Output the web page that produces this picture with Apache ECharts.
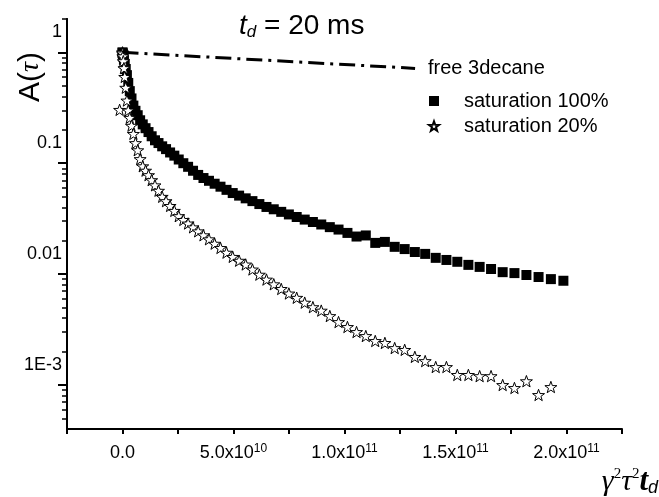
<!DOCTYPE html>
<html><head><meta charset="utf-8">
<script src="https://cdn.jsdelivr.net/npm/echarts@6/dist/echarts.min.js"></script>
<style>html,body{margin:0;padding:0;background:#fff}#c{width:659px;height:497px}</style>
</head><body><div id="c"></div>
<script>
const FONT = '"Liberation Sans", Arial, Helvetica, sans-serif';
const SERIF = '"Liberation Serif", "Times New Roman", serif';
const X_UNIT = 1e9;

// saturation 100% (x in units of 1e9)
const sat100X = [0, 0.041, 0.162, 0.365, 0.648, 1.013, 1.459, 1.986, 2.594, 3.283,
  4.053, 4.904, 5.836, 6.850, 7.944, 9.119, 10.376, 11.713, 13.132, 14.632,
  16.212, 17.874, 19.617, 21.441, 23.346, 25.332, 27.399, 29.547, 31.776, 34.087,
  36.478, 38.950, 41.504, 44.138, 46.854, 49.650, 52.528, 55.487, 58.527, 61.648,
  64.850, 68.133, 71.497, 74.942, 78.468, 82.075, 85.764, 89.533, 93.383, 97.315,
  101.328, 105.421, 109.596, 113.852, 118.188, 122.606, 127.105, 131.685, 136.346, 141.088,
  145.912, 150.816, 155.801, 160.868, 166.015, 171.243, 176.553, 181.944, 187.415, 192.968, 198.600];
const sat100Y = [1.000, 0.990, 0.963, 0.917, 0.857, 0.787, 0.708, 0.623, 0.530, 0.447,
  0.384, 0.331, 0.297, 0.271, 0.244, 0.224, 0.207, 0.191, 0.175, 0.161,
  0.152, 0.142, 0.134, 0.125, 0.117, 0.108, 0.100, 0.0928, 0.0855, 0.0784,
  0.0735, 0.0694, 0.0653, 0.0614, 0.0575, 0.0538, 0.0510, 0.0482, 0.0455, 0.0428,
  0.0403, 0.0384, 0.0364, 0.0345, 0.0327, 0.0310, 0.0295, 0.0280, 0.0265, 0.0252,
  0.0235, 0.0218, 0.0223, 0.0191, 0.0195, 0.0176, 0.0168, 0.0158, 0.0152, 0.0140,
  0.0134, 0.0129, 0.0121, 0.0116, 0.0111, 0.0104, 0.0102, 0.0098, 0.0094, 0.0090, 0.0087];

// saturation 20% (x in units of 1e9)
const sat20X = [-1.3, 0, 0.041, 0.162, 0.365, 0.648, 1.013, 1.459, 1.986, 2.594, 3.283,
  4.053, 4.904, 5.836, 6.850, 7.944, 9.119, 10.376, 11.713, 13.132, 14.632,
  16.212, 17.874, 19.617, 21.441, 23.346, 25.332, 27.399, 29.547, 31.776, 34.087,
  36.478, 38.950, 41.504, 44.138, 46.854, 49.650, 52.528, 55.487, 58.527, 61.648,
  64.850, 68.133, 71.497, 74.942, 78.468, 82.075, 85.764, 89.533, 93.383, 97.315,
  101.328, 105.421, 109.596, 113.852, 118.188, 122.606, 127.105, 131.685, 136.346, 141.088,
  145.912, 150.816, 155.801, 160.868, 166.015, 171.243, 176.553, 181.944, 187.415, 192.968];
const sat20Y = [0.303, 1.000, 0.979, 0.922, 0.833, 0.721, 0.601, 0.480, 0.368, 0.299, 0.257,
  0.218, 0.184, 0.152, 0.131, 0.109, 0.0939, 0.0857, 0.0781, 0.0704, 0.0632,
  0.0565, 0.0498, 0.0455, 0.0412, 0.0372, 0.0333, 0.0308, 0.0286, 0.0264, 0.0243,
  0.0224, 0.0206, 0.0188, 0.0172, 0.0156, 0.0143, 0.0132, 0.0122, 0.0110, 0.00988,
  0.00892, 0.00809, 0.00734, 0.00668, 0.00611, 0.00552, 0.00503, 0.00468, 0.00418, 0.00369,
  0.00333, 0.00300, 0.00276, 0.00249, 0.00239, 0.00215, 0.00207, 0.00179, 0.00164, 0.00145,
  0.00145, 0.00123, 0.00123, 0.00120, 0.00120, 0.000998, 0.000938, 0.00108, 0.000811, 0.000957];

// free 3decane
const freeX = [0, 131.8];
const freeY = [1, 0.717];

// axes
const xMin = -2.5e10, xMax = 2.25e11, xInterval = 2.5e10;
const xLabelValues = [0, 5e10, 1e11, 1.5e11, 2e11];
const xLabelMantissa = ['0.0', '5.0x10', '1.0x10', '1.5x10', '2.0x10'];
const xLabelExp = ['', '10', '11', '11', '11'];
const yMin = 4e-4, yMax = 2;
const yMajorTicks = [1, 0.1, 0.01, 0.001];
const yTickLabels = ['1', '0.1', '0.01', '1E-3'];
const yMinorTicks = [2, 0.9, 0.8, 0.7, 0.6, 0.5, 0.4, 0.3, 0.2,
  0.09, 0.08, 0.07, 0.06, 0.05, 0.04, 0.03, 0.02,
  0.009, 0.008, 0.007, 0.006, 0.005, 0.004, 0.003, 0.002,
  0.0009, 0.0008, 0.0007, 0.0006, 0.0005];

const STAR = 'path://M50 0 L61.756 33.82 L97.553 34.549 L69.021 56.18 L79.389 90.451 L50 70 L20.611 90.451 L30.979 56.18 L2.447 34.549 L38.244 33.82 Z';

function pairs(xs, ys) { return xs.map((x, i) => [x * X_UNIT, ys[i]]); }

const chart = echarts.init(document.getElementById('c'), null, { renderer: 'canvas' });
chart.setOption({
  animation: false,
  backgroundColor: '#fff',
  title: {
    text: '{t|t}{d|d}{n| = 20 ms}',
    left: 234, top: 6,
    textStyle: {
      fontWeight: 'normal',
      rich: {
        t: { fontFamily: FONT, fontStyle: 'italic', fontWeight: 'normal', fontSize: 28, lineHeight: 30, color: '#000' },
        d: { fontFamily: FONT, fontStyle: 'italic', fontWeight: 'normal', fontSize: 17, lineHeight: 12, verticalAlign: 'bottom', color: '#000' },
        n: { fontFamily: FONT, fontWeight: 'normal', fontSize: 28, lineHeight: 30, color: '#000' }
      }
    }
  },
  grid: { left: 67, right: 37, top: 19, bottom: 68, containLabel: false, outerBoundsMode: 'none' },
  legend: {
    data: ['saturation 100%', 'saturation 20%'],
    orient: 'vertical', left: 423, top: 86,
    itemWidth: 10, itemHeight: 10, itemGap: 5,
    formatter: function (name) { return '{gap|}{txt|' + name + '}'; },
    textStyle: {
      fontSize: 20, color: '#000', fontFamily: FONT,
      rich: {
        gap: { width: 20 },
        txt: { fontSize: 20, color: '#000', fontFamily: FONT }
      }
    },
    selectedMode: false
  },
  xAxis: {
    type: 'value', min: xMin, max: xMax, interval: xInterval,
    name: '{g|γ}{s|2}{g|τ}{s|2}{t|t}{d|d}',
    nameLocation: 'end', nameGap: 36,
    nameTextStyle: {
      align: 'right', verticalAlign: 'top', padding: [38, 0, 0, 0],
      rich: {
        g: { fontFamily: SERIF, fontStyle: 'italic', fontSize: 30, lineHeight: 30, color: '#000' },
        s: { fontFamily: SERIF, fontSize: 15, lineHeight: 15, verticalAlign: 'top', color: '#000' },
        t: { fontFamily: SERIF, fontStyle: 'italic', fontWeight: 'bold', fontSize: 31, lineHeight: 30, color: '#000' },
        d: { fontFamily: FONT, fontStyle: 'italic', fontSize: 18, lineHeight: 14, verticalAlign: 'bottom', color: '#000' }
      }
    },
    axisLine: { show: true, onZero: false, lineStyle: { color: '#000', width: 2 } },
    axisTick: { show: true, inside: false, length: 5, lineStyle: { color: '#000', width: 2 } },
    splitLine: { show: false },
    axisLabel: {
      customValues: xLabelValues,
      margin: 14,
      formatter: function (v) {
        for (let i = 0; i < xLabelValues.length; i++) {
          if (Math.abs(v - xLabelValues[i]) < 1e6) {
            return xLabelExp[i] ? '{m|' + xLabelMantissa[i] + '}{s|' + xLabelExp[i] + '}' : '{m|' + xLabelMantissa[i] + '}';
          }
        }
        return '';
      },
      rich: {
        m: { fontFamily: FONT, fontSize: 18, lineHeight: 20, color: '#000' },
        s: { fontFamily: FONT, fontSize: 12, lineHeight: 12, verticalAlign: 'top', color: '#000' }
      }
    }
  },
  yAxis: [{
    type: 'log', logBase: 10, min: yMin, max: yMax, position: 'left',
    axisLine: { show: true, onZero: false, lineStyle: { color: '#000', width: 2 } },
    axisTick: { show: true, inside: false, length: 9, customValues: yMajorTicks, lineStyle: { color: '#000', width: 2 } },
    splitLine: { show: false },
    axisLabel: {
      customValues: yMajorTicks,
      margin: 5,
      verticalAlign: 'bottom',
      lineHeight: 40,
      fontFamily: FONT, fontSize: 18, color: '#000',
      formatter: function (v) {
        for (let i = 0; i < yMajorTicks.length; i++) {
          if (Math.abs(Math.log10(v) - Math.log10(yMajorTicks[i])) < 1e-6) return yTickLabels[i];
        }
        return '';
      }
    }
  }, {
    type: 'log', logBase: 10, min: yMin, max: yMax, position: 'left',
    axisLine: { show: true, onZero: false, lineStyle: { color: '#000', width: 2 } },
    axisTick: { show: true, inside: false, length: 5, customValues: yMinorTicks, lineStyle: { color: '#000', width: 1.5 } },
    axisLabel: { show: false },
    splitLine: { show: false }
  }],
  graphic: [
    {
      type: 'text', x: 428, y: 68,
      style: { text: 'free 3decane', fontSize: 20, fontFamily: FONT, fill: '#000', align: 'left', verticalAlign: 'middle' }
    },
    {
      type: 'text', x: 31, y: 77, rotation: Math.PI / 2,
      style: {
        text: '{a|A(}{t|τ}{a|)}', align: 'center', verticalAlign: 'middle', fill: '#000',
        rich: {
          a: { fontFamily: FONT, fontSize: 30, fill: '#000' },
          t: { fontFamily: SERIF, fontStyle: 'italic', fontSize: 28, fill: '#000' }
        }
      }
    }
  ],
  series: [
    {
      name: 'saturation 100%', type: 'scatter', yAxisIndex: 0,
      data: pairs(sat100X, sat100Y),
      symbol: 'rect', symbolSize: 10,
      itemStyle: { color: '#000', opacity: 1 }
    },
    {
      name: 'saturation 20%', type: 'scatter', yAxisIndex: 0,
      data: pairs(sat20X, sat20Y),
      symbol: STAR, symbolSize: 12, symbolKeepAspect: true,
      itemStyle: { color: '#fff', borderColor: '#000', borderWidth: 1, opacity: 1 }
    },
    {
      name: 'free 3decane', type: 'line', yAxisIndex: 0,
      data: pairs(freeX, freeY),
      symbol: 'none', showSymbol: false,
      lineStyle: { color: '#000', width: 3, type: [16, 6, 3, 6] },
      z: 3
    }
  ]
});
</script>
</body></html>
